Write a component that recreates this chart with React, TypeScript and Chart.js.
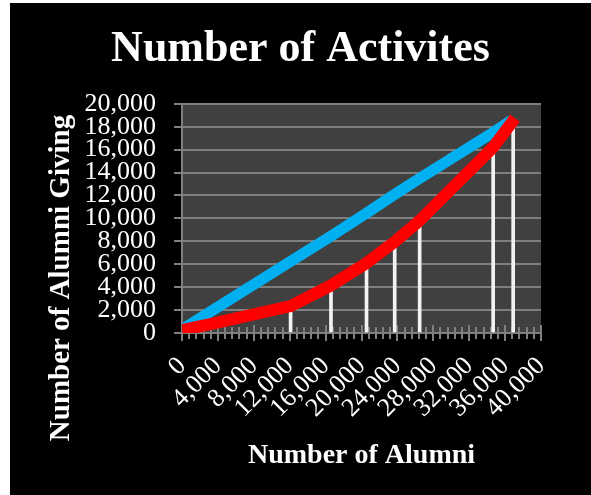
import React, { useEffect, useRef } from "react";
import { Chart, registerables } from "chart.js";

Chart.register(...registerables);

// ---- data ----
const TITLE = "Number of Activites";
const X_TITLE = "Number of Alumni";
const Y_TITLE = "Number of Alumni Giving";

const blueX = [0, 12100, 16600, 20560, 23700, 26480, 34670, 36700];
const blueY = [300, 6250, 8450, 10450, 12100, 13500, 17500, 18550];

const redX = [0, 3300, 12100, 16600, 20560, 23700, 26480, 34670, 37100];
const redY = [250, 800, 2350, 4150, 6100, 7950, 9800, 16200, 18750];

const barX = [12100, 16600, 20560, 23700, 26480, 34670, 36900];
const barY = [2350, 4150, 6100, 7950, 9800, 16200, 18600];

const X_MIN = 0;
const X_MAX = 40000;
const X_MAJOR = 4000;
const X_MINOR = 800;
const Y_MIN = 0;
const Y_MAX = 20000;
const Y_STEP = 2000;

// ---- styles ----
const FONT = "'Liberation Serif', 'Times New Roman', serif";
const GRID = "#7f7f7f";
const PLOT_BG = "#404040";

const toPoints = (xs: number[], ys: number[]) => xs.map((x, i) => ({ x, y: ys[i] }));

const bgPlugin = {
  id: "bgPlugin",
  beforeDraw(chart: any) {
    const { ctx, chartArea, width, height } = chart;
    ctx.save();
    ctx.fillStyle = "#000000";
    ctx.fillRect(0, 0, width, height);
    ctx.fillStyle = PLOT_BG;
    ctx.fillRect(chartArea.left, chartArea.top, chartArea.right - chartArea.left, chartArea.bottom - chartArea.top);
    ctx.restore();
  },
};

const xTicksPlugin = {
  id: "xTicksPlugin",
  beforeDatasetsDraw(chart: any) {
    const xs = chart.scales.x;
    const ctx = chart.ctx;
    const y0 = chart.chartArea.bottom;
    ctx.save();
    ctx.strokeStyle = GRID;
    ctx.lineWidth = 2;
    for (let v = X_MIN; v <= X_MAX + 0.1; v += X_MINOR) {
      const px = Math.round(xs.getPixelForValue(v));
      const major = Math.abs(v % X_MAJOR) < 0.5;
      const len = major ? 8 : 6;
      ctx.beginPath();
      ctx.moveTo(px, y0 - len);
      ctx.lineTo(px, y0 + len);
      ctx.stroke();
    }
    ctx.restore();
  },
};

const yTitlePlugin = {
  id: "yTitlePlugin",
  afterDraw(chart: any) {
    const ctx = chart.ctx;
    ctx.save();
    ctx.translate(52, 275);
    ctx.rotate(-Math.PI / 2);
    ctx.textAlign = "center";
    ctx.textBaseline = "middle";
    ctx.font = `bold 29px ${FONT}`;
    ctx.fillStyle = "#ffffff";
    ctx.fillText(Y_TITLE, 0, 0);
    ctx.restore();
  },
};

export default function App() {
  const canvasRef = useRef<HTMLCanvasElement | null>(null);

  useEffect(() => {
    if (!canvasRef.current) return;
    const chart = new Chart(canvasRef.current, {
      type: "line",
      data: {
        datasets: [
          {
            type: "bar",
            label: "drop",
            data: toPoints(barX, barY),
            backgroundColor: "#f2f2f2",
            borderWidth: 0,
            barThickness: 3,
            order: 3,
          } as any,
          {
            label: "blue",
            data: toPoints(blueX, blueY),
            borderColor: "#00b0f0",
            backgroundColor: "#00b0f0",
            borderWidth: 11,
            pointRadius: 0,
            tension: 0,
            borderCapStyle: "butt",
            borderJoinStyle: "miter",
            order: 2,
          },
          {
            label: "red",
            data: toPoints(redX, redY),
            borderColor: "#ff0000",
            backgroundColor: "#ff0000",
            borderWidth: 12,
            pointRadius: 0,
            tension: 0,
            borderCapStyle: "butt",
            borderJoinStyle: "miter",
            order: 1,
          },
        ],
      },
      options: {
        animation: false,
        responsive: false,
        devicePixelRatio: 1,
        layout: { padding: { top: 0, right: 0, bottom: 0, left: 0 } },
        plugins: {
          legend: { display: false },
          tooltip: { enabled: false },
          title: {
            display: true,
            text: TITLE,
            color: "#ffffff",
            font: { family: FONT, size: 44, weight: "bold" },
            padding: { top: 20, bottom: 28 },
          },
        },
        scales: {
          x: {
            type: "linear",
            min: X_MIN,
            max: X_MAX,
            offset: false,
            grid: { display: false, drawTicks: false, offset: false },
            border: { display: true, color: GRID, width: 2 },
            ticks: {
              stepSize: X_MAJOR,
              autoSkip: false,
              maxRotation: 45,
              minRotation: 45,
              color: "#ffffff",
              padding: 18,
              font: { family: FONT, size: 26 },
            },
            title: {
              display: true,
              text: X_TITLE,
              color: "#ffffff",
              font: { family: FONT, size: 28, weight: "bold" },
              padding: { top: 0, bottom: 22 },
            },
            afterFit(scale: any) {
              scale.height = 162;
            },
          },
          y: {
            type: "linear",
            min: Y_MIN,
            max: Y_MAX,
            grid: { color: GRID, lineWidth: 2, drawTicks: true, tickLength: 8 },
            border: { display: true, color: GRID, width: 2 },
            ticks: {
              stepSize: Y_STEP,
              autoSkip: false,
              color: "#ffffff",
              padding: 18,
              font: { family: FONT, size: 26 },
            },
            afterFit(scale: any) {
              scale.width = 172;
            },
          },
          yRight: {
            type: "linear",
            position: "right",
            display: true,
            grid: { display: false, drawTicks: false },
            border: { display: false },
            ticks: { display: false },
            afterFit(scale: any) {
              scale.width = 50;
            },
          },
        },
      },
      plugins: [bgPlugin, xTicksPlugin, yTitlePlugin],
    });
    return () => chart.destroy();
  }, []);

  return (
    <div
      style={{
        position: "absolute",
        left: 10,
        top: 3,
        width: 581,
        height: 492,
        background: "#000000",
      }}
    >
      <canvas ref={canvasRef} width={581} height={492} style={{ display: "block" }} />
    </div>
  );
}
